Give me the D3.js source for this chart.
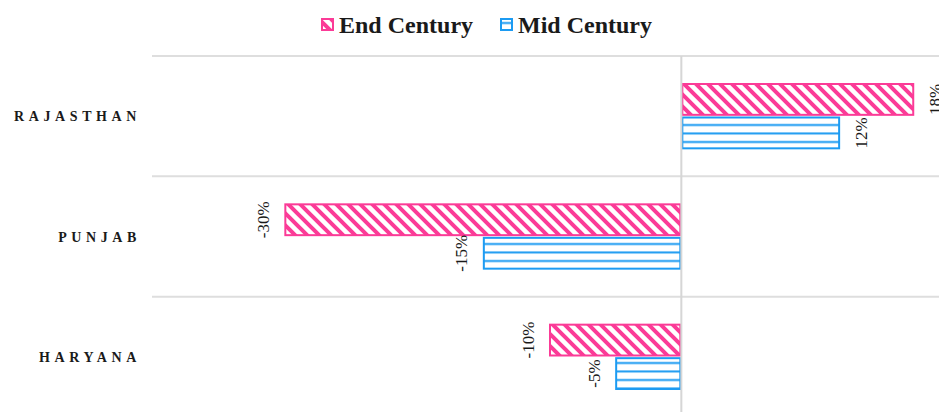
<!DOCTYPE html>
<html><head><meta charset="utf-8">
<script src="https://cdn.jsdelivr.net/npm/d3@7"></script>
<style>body{margin:0;background:#fff;overflow:hidden}svg{display:block}</style>
</head><body>
<svg id="chart" width="939" height="412"></svg>
<script>
const categories = ["RAJASTHAN", "PUNJAB", "HARYANA"];
const seriesNames = ["End Century", "Mid Century"];
const endCentury = [17.6, -30, -10];
const midCentury = [12, -15, -5];
const xDomain = [-40, 20];

const colors = {"End Century": "#fb3b97", "Mid Century": "#1c9bf2"};
const patternIds = {"End Century": "pat-end", "Mid Century": "pat-mid"};

const svg = d3.select("#chart");
const defs = svg.append("defs");

const p1 = defs.append("pattern").attr("id", "pat-end").attr("patternUnits", "userSpaceOnUse")
  .attr("width", 12).attr("height", 12);
p1.append("rect").attr("width", 12).attr("height", 12).attr("fill", "#fff");
p1.append("path").attr("d", "M-3,-3 L15,15 M-3,9 L3,15 M9,-3 L15,3")
  .attr("stroke", colors["End Century"]).attr("stroke-width", 4);

const p2 = defs.append("pattern").attr("id", "pat-mid").attr("patternUnits", "userSpaceOnUse")
  .attr("width", 8).attr("height", 8.5);
p2.append("rect").attr("width", 8).attr("height", 8.5).attr("fill", "#fff");
p2.append("path").attr("d", "M0,6 L8,6").attr("stroke", colors["Mid Century"]).attr("stroke-width", 2);

const x = d3.scaleLinear().domain(xDomain).range([152, 946]);
const y = d3.scaleBand().domain(categories).range([56, 417]);
const inner = d3.scaleBand().domain(seriesNames).range([27, y.bandwidth() - 27]).paddingInner(0.02);

const gridG = svg.append("g");
categories.forEach(c => {
  gridG.append("line").attr("x1", 152).attr("x2", 939)
    .attr("y1", y(c)).attr("y2", y(c)).attr("stroke", "#dedede").attr("stroke-width", 2);
});

svg.append("g").selectAll("text").data(categories).join("text")
  .attr("x", 141).attr("y", d => y(d) + y.bandwidth() / 2 + 5)
  .attr("text-anchor", "end")
  .attr("font-family", "Liberation Serif, Times New Roman, serif")
  .attr("font-weight", "bold").attr("font-size", 14).attr("letter-spacing", 4.6)
  .attr("fill", "#1a1a1a").text(d => d);

const rows = [];
categories.forEach((c, i) => {
  rows.push({cat: c, series: "End Century", v: endCentury[i]});
  rows.push({cat: c, series: "Mid Century", v: midCentury[i]});
});

const barG = svg.append("g");
barG.selectAll("rect").data(rows).join("rect")
  .attr("x", d => x(Math.min(0, d.v)) + 1)
  .attr("y", d => y(d.cat) + inner(d.series) + 1)
  .attr("width", d => Math.abs(x(d.v) - x(0)) - 2)
  .attr("height", inner.bandwidth() - 2)
  .attr("fill", d => `url(#${patternIds[d.series]})`)
  .attr("stroke", d => colors[d.series]).attr("stroke-width", 2);

svg.append("line").attr("x1", x(0)).attr("x2", x(0)).attr("y1", 56).attr("y2", 412)
  .attr("stroke", "#d6d6d6").attr("stroke-width", 2);

const fmt = v => Math.round(v) + "%";
barG.selectAll("text").data(rows).join("text")
  .attr("transform", d => {
    const lx = x(d.v) + (d.v >= 0 ? 21 : -21);
    const ly = y(d.cat) + inner(d.series) + inner.bandwidth() / 2;
    return `translate(${lx},${ly}) rotate(-90)`;
  })
  .attr("text-anchor", "middle").attr("dominant-baseline", "central")
  .attr("font-family", "Liberation Serif, Times New Roman, serif")
  .attr("font-size", 17).attr("fill", "#1a1a1a")
  .text(d => fmt(d.v));

const legend = svg.append("g");
const legendItems = [{name: "End Century", x: 321}, {name: "Mid Century", x: 500}];
legendItems.forEach(it => {
  legend.append("rect").attr("x", it.x + 1).attr("y", 19).attr("width", 11).attr("height", 11)
    .attr("fill", `url(#${patternIds[it.name]})`).attr("stroke", colors[it.name]).attr("stroke-width", 2);
  legend.append("text").attr("x", it.x + 18).attr("y", 33)
    .attr("font-family", "Liberation Serif, Times New Roman, serif")
    .attr("font-weight", "bold").attr("font-size", 24).attr("fill", "#1a1a1a")
    .text(it.name);
});
</script>
</body></html>
